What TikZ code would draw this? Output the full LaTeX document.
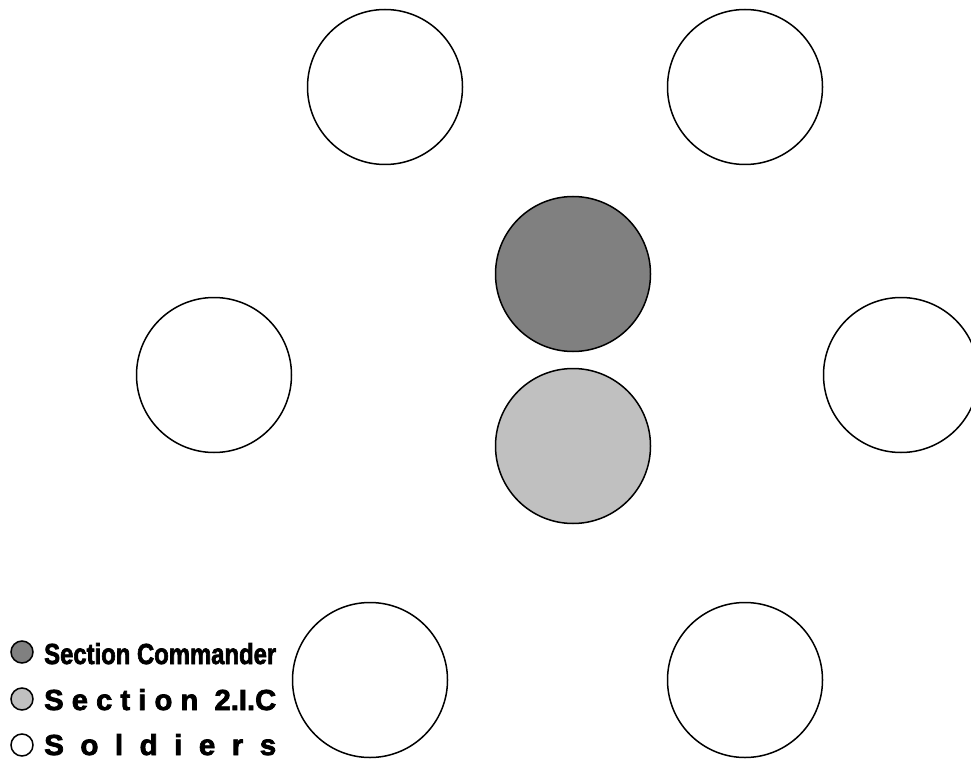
\documentclass[tikz,border=0pt]{standalone}
\usepackage{fontspec}
\setmainfont{Liberation Sans}[BoldFeatures={FakeBold=2.5}]
\usepackage{graphicx}
\usetikzlibrary{positioning}
\definecolor{velitel}{RGB}{128,128,128}
\definecolor{zastupce}{RGB}{192,192,192}
\tikzset{
  vojak/.style={circle,draw=black,fill=white,line width=1.5pt,minimum size=155pt,inner sep=0pt},
  vojakV/.style={vojak,fill=velitel},
  vojakZ/.style={vojak,fill=zastupce},
  znak/.style={circle,draw=black,line width=1.5pt,minimum size=22pt,inner sep=0pt},
  popis/.style={anchor=base west,inner sep=0pt},
}
\newcommand{\legtext}[1]{\resizebox{232pt}{21pt}{\bfseries #1}}

\begin{document}
\begin{tikzpicture}[x=1pt,y=-1pt]
  \useasboundingbox (0,0) rectangle (971,759);
  % soldiers
  \node[vojak] (v1) at (385,87) {}; \node[vojak] (v2) at (745,87) {};
  \node[vojak] (v3) at (214,375) {}; \node[vojak] (v4) at (901,375) {};
  \node[vojak] (v5) at (370,680) {}; \node[vojak] (v6) at (745,680) {};
  % commander and 2IC
  \node[vojakV] (sc) at (573,274) {};
  \node[vojakZ] (ic) at (573,446) {};
  % legend
  \node[znak,fill=velitel] (l1) at (22,652) {};
  \node[znak,fill=zastupce] (l2) at (22,699) {};
  \node[znak,fill=white] (l3) at (22,745) {};
  \node[popis] (t1) at (44,664) {\legtext{Section Commander}};
  \node[popis] (t2) at (44,710) {\legtext{S e c t i o n\ \ 2.I.C}};
  \node[popis] (t3) at (44,755) {\legtext{S\ \ o\ \ l\ \ d\ \ i\ \ e\ \ r\ \ s}};
\end{tikzpicture}
\end{document}
